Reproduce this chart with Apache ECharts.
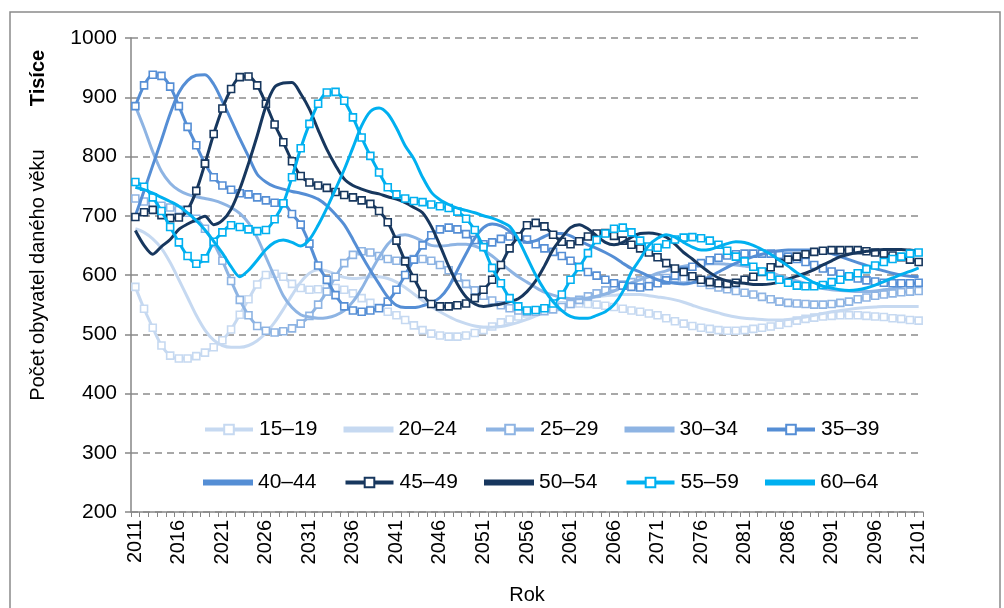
<!DOCTYPE html>
<html>
<head>
<meta charset="utf-8">
<script src="https://cdn.jsdelivr.net/npm/echarts@6/dist/echarts.min.js"></script>
<style>
html,body{margin:0;padding:0;background:#fff;}
#c{width:1004px;height:608px;}
</style>
</head>
<body>
<div id="c"></div>
<script>
// Categories (years)
const years = [
2011,2012,2013,2014,2015,2016,2017,2018,2019,2020,
2021,2022,2023,2024,2025,2026,2027,2028,2029,2030,
2031,2032,2033,2034,2035,2036,2037,2038,2039,2040,
2041,2042,2043,2044,2045,2046,2047,2048,2049,2050,
2051,2052,2053,2054,2055,2056,2057,2058,2059,2060,
2061,2062,2063,2064,2065,2066,2067,2068,2069,2070,
2071,2072,2073,2074,2075,2076,2077,2078,2079,2080,
2081,2082,2083,2084,2085,2086,2087,2088,2089,2090,
2091,2092,2093,2094,2095,2096,2097,2098,2099,2100,
2101];

const yTicks = [200,300,400,500,600,700,800,900,1000];

const age15_19 = [
580,543,511,481,464,459,459,463,469,478,
490,508,533,559,584,600,602,597,585,578,
575,576,578,578,575,569,561,553,545,538,
532,524,515,507,501,498,496,496,498,502,
507,513,520,525,530,535,540,543,546,549,
551,552,551,550,548,546,543,540,538,535,
532,527,522,518,514,511,509,507,506,506,
507,509,511,513,516,519,523,526,528,530,
531,532,532,532,531,530,529,527,526,524,
523];

const age20_24 = [
678,672,661,645,621,592,562,532,507,490,
481,478,478,481,489,502,520,542,566,588,
603,609,607,601,596,594,595,597,597,594,
588,579,568,557,547,538,530,523,518,514,
512,512,513,516,520,525,531,537,542,547,
552,556,560,563,565,566,567,567,567,565,
563,561,558,554,549,544,540,536,532,529,
527,526,525,524,524,525,527,529,532,535,
538,540,542,544,545,546,547,547,547,547,
547];

const age25_29 = [
729,724,720,717,714,710,705,695,678,654,
624,590,558,532,514,506,503,505,510,518,
531,550,572,597,620,634,640,638,632,627,
624,625,627,627,624,617,608,596,585,574,
565,557,549,544,540,538,538,539,542,546,
551,558,564,569,574,580,584,588,591,593,
594,595,595,594,592,587,583,579,576,573,
570,567,563,559,555,553,552,551,550,550,
551,553,555,559,562,565,567,569,571,572,
573];

const age30_34 = [
885,848,808,775,755,743,736,732,729,726,
721,714,704,688,663,630,597,565,545,533,
529,527,528,532,540,555,577,604,630,652,
665,668,664,657,650,649,650,652,652,649,
642,632,620,608,597,588,579,571,566,562,
560,560,561,564,568,573,580,587,592,597,
603,607,612,615,617,618,619,619,618,617,
615,613,609,605,599,594,590,586,581,577,
575,574,573,572,572,573,575,577,581,584,
588];

const age35_39 = [
885,920,938,936,918,885,850,819,788,765,
751,744,738,736,731,726,722,721,703,685,
653,616,592,566,547,540,538,540,544,555,
575,600,626,650,667,677,680,677,669,659,
652,655,661,665,665,660,652,645,639,632,
624,614,605,599,592,586,582,580,579,581,
586,591,599,607,614,620,625,629,633,635,
636,636,636,636,634,631,627,622,617,611,
606,602,598,594,591,589,587,586,586,586,
587];

const age40_44 = [
700,742,785,828,872,908,928,937,938,922,
893,862,830,800,770,757,749,745,741,738,
734,728,717,702,685,660,633,608,585,563,
549,545,545,548,553,562,580,608,636,662,
680,686,683,674,662,655,658,665,670,670,
666,658,651,645,638,630,620,611,605,598,
592,588,586,585,587,592,597,605,613,620,
626,631,635,639,641,642,642,642,642,640,
636,631,626,621,616,611,607,603,600,598,
597];

const age45_49 = [
698,706,710,701,696,697,710,742,788,838,
881,914,934,935,920,889,854,824,792,767,
756,751,747,740,735,731,726,720,708,689,
658,623,595,568,551,547,547,549,552,561,
575,592,617,645,665,684,688,682,668,656,
652,657,665,670,671,666,658,651,645,638,
630,620,611,605,598,592,588,586,585,587,
592,597,605,613,620,626,631,635,639,641,
642,642,642,642,640,638,636,633,630,626,
622];

const age50_54 = [
675,650,635,648,660,677,686,693,699,685,
692,711,745,788,835,885,917,924,925,906,
880,845,812,785,762,751,745,740,737,732,
728,722,714,705,682,650,615,585,563,551,
547,549,551,555,560,572,590,615,643,663,
680,685,678,666,655,651,655,664,670,671,
669,664,652,638,627,615,604,595,590,587,
586,584,584,585,588,593,598,603,609,617,
624,631,635,638,640,642,643,643,643,642,
641];

const age55_59 = [
757,749,731,708,681,655,632,619,628,656,
672,684,681,677,674,676,694,721,765,814,
855,889,908,909,894,866,832,801,773,748,
736,729,725,723,719,716,713,707,695,676,
647,612,586,561,547,540,541,544,552,567,
592,613,637,659,670,678,680,672,658,648,
646,652,660,663,664,662,658,651,641,631,
623,614,606,598,592,587,582,581,581,583,
588,592,598,603,610,616,622,627,631,636,
638];

const age60_64 = [
748,744,738,731,724,716,705,692,676,657,
637,614,597,608,625,643,655,659,655,649,
660,684,713,745,778,815,852,876,882,872,
848,818,796,765,740,727,719,713,709,705,
700,696,690,682,660,630,600,575,555,540,
530,527,527,532,538,550,572,605,627,650,
662,668,664,655,647,642,643,648,653,656,
655,650,643,635,625,615,604,595,587,581,
578,575,574,575,578,583,589,595,601,606,
612];

const names = ['15–19','20–24','25–29','30–34','35–39','40–44','45–49','50–54','55–59','60–64'];
const datasets = [age15_19,age20_24,age25_29,age30_34,age35_39,age40_44,age45_49,age50_54,age55_59,age60_64];
const colors = ['#c6d9f1','#c6d9f1','#8eb4e3','#8eb4e3','#558ed5','#558ed5','#17375e','#17375e','#00b0f0','#00b0f0'];
const markers = [true,false,true,false,true,false,true,false,true,false];

const FONT = 'Liberation Sans, Arial, sans-serif';

const series = names.map((n,i)=>({
  name:n, type:'line', data:datasets[i], smooth:0.3,
  symbol: markers[i] ? 'rect' : 'none',
  showSymbol: markers[i],
  showAllSymbol: true,
  symbolSize: 7,
  lineStyle:{color:colors[i], width:3},
  itemStyle:{color: markers[i] ? '#ffffff' : colors[i], borderColor:colors[i], borderWidth:1.6},
  emphasis:{disabled:true},
  z: 2 + i
}));

// one legend component per item, laid out in two rows of five
const legendLeft0 = 198, legendPitch = 140.5;
const legends = names.map((n,i)=>{
  const row = Math.floor(i/5), col = i%5;
  const base = {
    data:[n], left: legendLeft0 + col*legendPitch, top: row===0 ? 414 : 467,
    itemGap:0, selectedMode:false,
    textStyle:{fontSize:21, color:'#000', fontFamily:FONT, padding:[0,0,0,1]}
  };
  if (markers[i]) {
    base.itemWidth = 48; base.itemHeight = 12;
    base.lineStyle = {width:4};
  } else {
    base.itemWidth = 48; base.itemHeight = 4; base.icon = 'rect';
  }
  return base;
});

const chart = echarts.init(document.getElementById('c'), null, {renderer:'canvas'});
chart.setOption({
  animation:false,
  backgroundColor:'#ffffff',
  grid:{left:131, top:38, width:792, height:474, containLabel:false},
  legend: legends,
  xAxis:{
    type:'category', data:years, boundaryGap:true,
    axisLine:{show:true, lineStyle:{color:'#868686', width:1.5}},
    axisTick:{show:true, interval:0, length:5, lineStyle:{color:'#868686', width:1}},
    axisLabel:{interval:4, rotate:90, fontSize:20, color:'#000', fontFamily:FONT, margin:8},
    splitLine:{show:false}
  },
  yAxis:{
    type:'value', min:yTicks[0], max:yTicks[yTicks.length-1], interval:100,
    axisLine:{show:true, lineStyle:{color:'#868686', width:1.5}},
    axisTick:{show:true, length:6, lineStyle:{color:'#868686', width:1.5}},
    axisLabel:{fontSize:21, color:'#000', fontFamily:FONT, margin:14, formatter:(v)=>String(v)},
    splitLine:{show:true, lineStyle:{color:'#8c8c8c', width:1.5, type:[7,5]}}
  },
  graphic:[
    {type:'rect', shape:{x:10, y:12, width:990, height:620}, style:{fill:'none', stroke:'#8a8a8a', lineWidth:1.5}, silent:true, z:-1},
    {type:'text', x:38, y:275, rotation:Math.PI/2, style:{text:'Počet obyvatel daného věku', fontSize:20, fill:'#000', fontFamily:FONT, textAlign:'center', textVerticalAlign:'middle'}},
    {type:'text', x:38, y:78, rotation:Math.PI/2, style:{text:'Tisíce', fontSize:20, fontWeight:'bold', fill:'#000', fontFamily:FONT, textAlign:'center', textVerticalAlign:'middle'}},
    {type:'text', x:527, y:595, style:{text:'Rok', fontSize:20, fill:'#000', fontFamily:FONT, textAlign:'center', textVerticalAlign:'middle'}}
  ],
  series: series
});
</script>
</body>
</html>
